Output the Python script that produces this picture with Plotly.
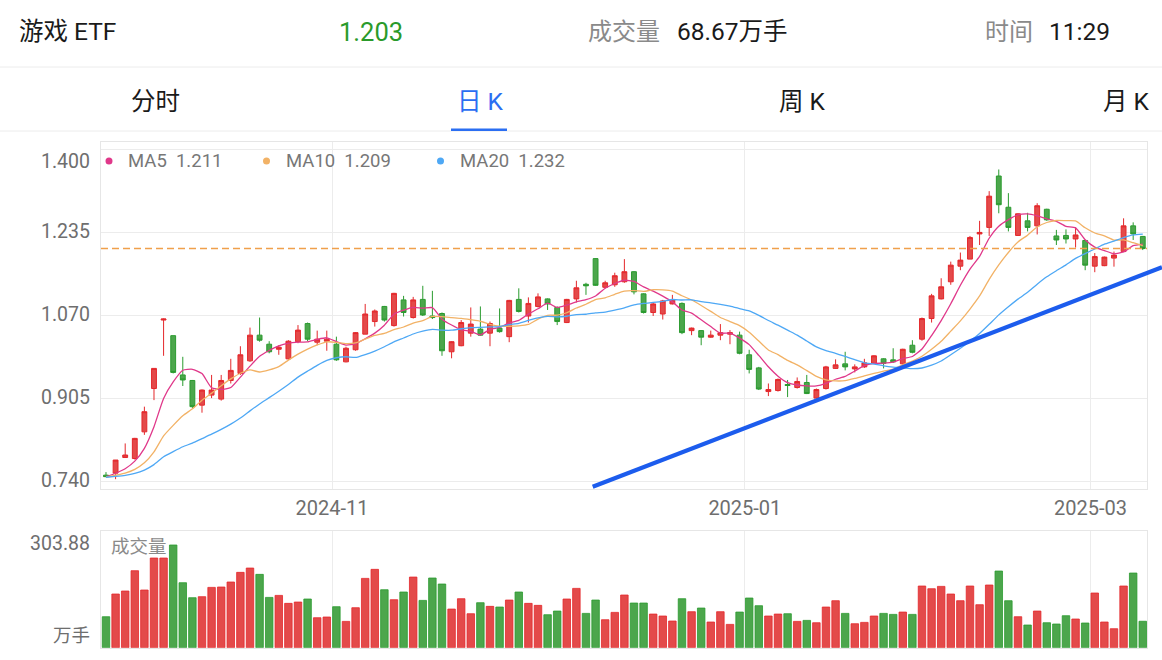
import plotly.graph_objects as go
import pandas as pd

# ---------------- data ----------------
holidays = ["2024-10-01", "2024-10-02", "2024-10-03", "2024-10-04", "2024-10-07",
            "2025-01-01", "2025-01-28", "2025-01-29", "2025-01-30", "2025-01-31",
            "2025-02-03", "2025-02-04"]
all_days = pd.bdate_range("2024-09-23", "2025-03-10")
dates = [d for d in all_days if d.strftime("%Y-%m-%d") not in holidays]

open_ = [
    0.753, 0.757, 0.788, 0.786, 0.839, 0.925, 1.061, 1.030, 0.952, 0.941,
    0.892, 0.912, 0.904, 0.941, 0.955, 0.980, 1.031, 1.013, 1.003, 0.984,
    1.018, 1.054, 1.017, 1.019, 1.013, 0.978, 1.002, 1.033, 1.058, 1.088,
    1.050, 1.101, 1.066, 1.102, 1.069, 1.074, 0.998, 1.010, 1.035, 1.043,
    1.035, 1.045, 1.028, 1.102, 1.069, 1.088, 1.103, 1.086, 1.056, 1.103,
    1.132, 1.183, 1.126, 1.131, 1.137, 1.157, 1.113, 1.076, 1.073, 1.093,
    1.094, 1.040, 1.040, 1.027, 1.031, 1.033, 1.031, 0.992, 0.966, 0.919,
    0.921, 0.933, 0.927, 0.937, 0.906, 0.925, 0.965, 0.974, 0.964, 0.968,
    0.975, 0.984, 0.982, 0.974, 1.011, 1.023, 1.064, 1.103, 1.137, 1.168,
    1.182, 1.232, 1.245, 1.347, 1.285, 1.229, 1.258, 1.248, 1.281, 1.228,
    1.229, 1.222, 1.219, 1.168, 1.169, 1.184, 1.197, 1.248, 1.227]
close = [
    0.750, 0.783, 0.793, 0.826, 0.879, 0.965, 1.063, 0.957, 0.942, 0.889,
    0.922, 0.922, 0.941, 0.961, 0.992, 1.031, 1.021, 0.998, 1.007, 1.019,
    1.041, 1.023, 1.023, 1.023, 0.982, 1.005, 1.036, 1.073, 1.079, 1.061,
    1.114, 1.076, 1.101, 1.071, 1.066, 1.000, 1.018, 1.056, 1.053, 1.031,
    1.054, 1.038, 1.100, 1.078, 1.094, 1.107, 1.093, 1.058, 1.102, 1.125,
    1.129, 1.130, 1.135, 1.149, 1.157, 1.117, 1.076, 1.093, 1.099, 1.101,
    1.036, 1.045, 1.027, 1.031, 1.036, 1.036, 0.995, 0.963, 0.924, 0.923,
    0.943, 0.931, 0.939, 0.915, 0.923, 0.968, 0.972, 0.968, 0.968, 0.976,
    0.990, 0.975, 0.978, 1.003, 0.997, 1.064, 1.109, 1.127, 1.170, 1.180,
    1.225, 1.235, 1.307, 1.290, 1.245, 1.272, 1.245, 1.288, 1.260, 1.220,
    1.222, 1.230, 1.170, 1.187, 1.186, 1.190, 1.248, 1.232, 1.203]
high = [
    0.759, 0.783, 0.816, 0.827, 0.889, 0.965, 1.064, 1.030, 0.988, 0.942,
    0.923, 0.952, 0.952, 0.984, 1.009, 1.046, 1.066, 1.019, 1.011, 1.021,
    1.051, 1.056, 1.040, 1.040, 1.028, 1.008, 1.037, 1.093, 1.082, 1.089,
    1.115, 1.109, 1.107, 1.129, 1.119, 1.076, 1.019, 1.061, 1.086, 1.088,
    1.058, 1.084, 1.101, 1.124, 1.106, 1.114, 1.104, 1.088, 1.103, 1.139,
    1.135, 1.184, 1.139, 1.155, 1.182, 1.158, 1.114, 1.096, 1.101, 1.111,
    1.096, 1.046, 1.041, 1.040, 1.053, 1.041, 1.038, 1.002, 0.968, 0.935,
    0.945, 0.942, 0.947, 0.952, 0.925, 0.970, 0.983, 0.998, 0.973, 0.984,
    0.991, 0.985, 1.005, 1.004, 1.021, 1.066, 1.113, 1.144, 1.177, 1.195,
    1.228, 1.258, 1.317, 1.360, 1.313, 1.273, 1.274, 1.293, 1.282, 1.240,
    1.241, 1.245, 1.220, 1.194, 1.187, 1.197, 1.263, 1.255, 1.228]
low = [
    0.749, 0.745, 0.788, 0.784, 0.833, 0.902, 0.990, 0.955, 0.930, 0.886,
    0.877, 0.906, 0.901, 0.935, 0.952, 0.978, 1.018, 0.995, 0.992, 0.982,
    1.015, 1.019, 1.011, 1.000, 0.980, 0.977, 1.000, 1.033, 1.048, 1.058,
    1.048, 1.068, 1.064, 1.069, 1.063, 0.990, 0.985, 1.009, 1.028, 1.030,
    1.009, 1.036, 1.017, 1.076, 1.056, 1.086, 1.081, 1.051, 1.055, 1.096,
    1.111, 1.129, 1.124, 1.127, 1.135, 1.112, 1.074, 1.069, 1.062, 1.092,
    1.033, 1.031, 1.011, 1.026, 1.021, 1.013, 0.993, 0.955, 0.922, 0.910,
    0.919, 0.908, 0.925, 0.914, 0.904, 0.923, 0.964, 0.961, 0.957, 0.966,
    0.974, 0.965, 0.976, 0.972, 0.995, 1.020, 1.056, 1.102, 1.131, 1.160,
    1.182, 1.210, 1.228, 1.273, 1.237, 1.228, 1.237, 1.231, 1.258, 1.210,
    1.213, 1.205, 1.160, 1.156, 1.168, 1.167, 1.196, 1.220, 1.200]
volume = [
    80.5, 139.4, 147.2, 200.0, 149.8, 232.9, 232.9, 266.7, 168.8, 129.9,
    132.5, 156.7, 157.6, 170.6, 195.7, 206.9, 190.5, 130.7, 135.9, 115.2,
    118.6, 126.4, 77.9, 79.7, 106.5, 68.4, 103.9, 180.1, 203.5, 150.6,
    124.7, 144.6, 183.5, 122.9, 181.0, 165.4, 100.4, 127.3, 88.3, 116.9,
    107.4, 105.6, 123.8, 144.6, 115.2, 110.0, 85.7, 95.2, 126.4, 154.1,
    89.2, 123.8, 72.7, 91.8, 136.8, 116.0, 116.0, 87.4, 82.3, 69.3,
    127.3, 93.5, 103.0, 66.7, 93.5, 60.6, 92.6, 129.0, 109.1, 82.3,
    87.4, 88.3, 68.4, 71.0, 64.9, 105.6, 122.1, 89.2, 62.3, 65.8,
    82.3, 89.2, 86.6, 92.6, 86.6, 160.2, 153.2, 159.3, 139.4, 122.1,
    160.2, 111.7, 162.8, 199.1, 122.1, 80.5, 58.9, 95.2, 64.9, 61.5,
    83.1, 74.5, 64.1, 142.0, 66.7, 49.4, 160.2, 193.9, 68.67]
# closes of the sessions before the first candle (seed for the moving averages)
prior_close = [0.752, 0.750, 0.748, 0.746, 0.749, 0.753, 0.751, 0.748, 0.745, 0.744,
               0.746, 0.749, 0.752, 0.750, 0.747, 0.746, 0.748, 0.751, 0.752]

price_ticks = [1.400, 1.235, 1.070, 0.905, 0.740]
ma_names = ["MA5", "MA10", "MA20"]
ma_periods = [5, 10, 20]
ma_labels = ["1.211", "1.209", "1.232"]
last_price = "1.203"
last_volume = "68.67万手"
quote_time = "11:29"
volume_max_label = "303.88"
tabs = ["分时", "日 K", "周 K", "月 K"]
trend_start = (50.7, 0.730)   # (session index, price)
trend_end = (110.0, 1.166)

# ---------------- styles ----------------
W, H = 1162, 660
L_M, R_M = 101, 15
FONT = "Roboto, 'Noto Sans CJK SC', sans-serif"
RED_LINE, RED_FILL = "#e4272b", "#e34a4a"
GRN_LINE, GRN_FILL = "#2a9b2f", "#4ca64c"
MA_COLORS = ["#e0388a", "#f2b266", "#4ea8f5"]
GRID = "#ececec"
FRAME = "#e6e6e6"
AXIS_TXT = "#6e6e6e"

n = len(close)
x = list(range(n))
XR = [-0.52, 108.44]
YR = [0.7255, 1.4145]
Y_DOM = [0.2591, 0.7848]
V_DOM = [0.0186, 0.1959]
VR = [0, float(volume_max_label)]

allc = pd.Series(prior_close + close)
mas = [allc.rolling(p, min_periods=1).mean().iloc[len(prior_close):].tolist() for p in ma_periods]

# ticks: first session of odd months
tickvals, ticktext = [], []
prev = None
for i, d in enumerate(dates):
    if prev is not None and d.month != prev.month and d.month % 2 == 1:
        tickvals.append(i - 0.45)
        ticktext.append(d.strftime("%Y-%m"))
    prev = d

up = [c >= o for o, c in zip(open_, close)]

fig = go.Figure()
fig.add_trace(go.Candlestick(
    x=x, open=open_, high=high, low=low, close=close,
    increasing=dict(line=dict(color=RED_LINE, width=1), fillcolor=RED_FILL),
    decreasing=dict(line=dict(color=GRN_LINE, width=1), fillcolor=GRN_FILL),
    whiskerwidth=0, showlegend=False, hoverinfo="skip", xaxis="x", yaxis="y"))
for name, ma, col in zip(ma_names, mas, MA_COLORS):
    fig.add_trace(go.Scatter(x=x, y=ma, mode="lines", name=name,
                             line=dict(color=col, width=1.3, shape="spline", smoothing=0.5),
                             showlegend=False, hoverinfo="skip", xaxis="x", yaxis="y"))
fig.add_trace(go.Bar(
    x=x, y=volume,
    marker=dict(color=[RED_FILL if u else GRN_FILL for u in up],
                line=dict(color=[RED_LINE if u else GRN_LINE for u in up], width=0.8)),
    showlegend=False, hoverinfo="skip", xaxis="x2", yaxis="y2"))


def px(v):
    return (v - L_M) / (W - L_M - R_M)


def py(v):
    return (H - v) / H


def data_to_paper(idx, price):
    xp = (idx - XR[0]) / (XR[1] - XR[0])
    yp = Y_DOM[0] + (price - YR[0]) / (YR[1] - YR[0]) * (Y_DOM[1] - Y_DOM[0])
    return xp, yp


shapes = []
annotations = []

# header separators
for yy in (67, 131):
    shapes.append(dict(type="line", xref="paper", yref="paper", x0=px(0), x1=px(W),
                       y0=py(yy), y1=py(yy), line=dict(color="#ececec", width=1)))
# active tab underline
shapes.append(dict(type="rect", xref="paper", yref="paper", x0=px(451), x1=px(507),
                   y0=py(131), y1=py(128.5), fillcolor="#2b6ef2", line=dict(width=0)))


def txt(s, xx, yy, size, color, anchor="left"):
    annotations.append(dict(text=s, xref="paper", yref="paper", x=px(xx), y=py(yy),
                            xanchor=anchor, yanchor="middle", showarrow=False,
                            font=dict(family=FONT, size=size, color=color)))


# header texts
txt("游戏 ETF", 17, 32, 24.5, "#1a1a1a")
txt(last_price, 370.5, 32, 25.5, "#2a9a2a", "center")
txt("成交量", 586, 32, 24, "#8a8a8a")
txt(last_volume, 675, 32, 24.5, "#1a1a1a")
txt("时间", 983, 32, 24, "#8a8a8a")
txt(quote_time, 1047, 32, 24.5, "#1a1a1a")
for t, cx in zip(tabs, [155, 480, 802, 1126]):
    txt(t, cx, 101, 24.5, "#2b6ef2" if t == "日 K" else "#1a1a1a", "center")

# legend
for name, lab, col, dx, tx in zip(ma_names, ma_labels, MA_COLORS, [109, 266.5, 440.5], [126, 284, 458]):
    shapes.append(dict(type="circle", xref="paper", yref="paper",
                       x0=px(dx - 3.5), x1=px(dx + 3.5), y0=py(161 + 3.5), y1=py(161 - 3.5),
                       fillcolor=col, line=dict(width=0)))
    txt(name + "  " + lab, tx, 161, 18.5, "#777777")

# y tick labels for price panel
for v in price_ticks:
    annotations.append(dict(text=f"{v:.3f}", xref="paper", yref="y", x=0, y=v,
                            xanchor="right", yanchor="middle", xshift=-9,
                            yshift=-12 if v == max(price_ticks) else 1, showarrow=False,
                            font=dict(family=FONT, size=19.5, color=AXIS_TXT)))

# volume panel labels
txt(volume_max_label, 92, 543, 19.5, AXIS_TXT, "right")
txt("万手", 92, 636, 18.5, AXIS_TXT, "right")
txt("成交量", 109, 547, 18.5, "#8a8a8a")

# last price dashed line
shapes.append(dict(type="line", xref="paper", yref="y", x0=0, x1=1,
                   y0=close[-1], y1=close[-1],
                   line=dict(color="#f0a04b", width=1.6, dash="7px,4px")))

# trend line (drawn by hand on the original chart)
tx0, ty0 = data_to_paper(*trend_start)
tx1, ty1 = data_to_paper(*trend_end)
shapes.append(dict(type="line", xref="paper", yref="paper", x0=tx0, y0=ty0, x1=tx1, y1=ty1,
                   line=dict(color="#1c5ced", width=4.2)))

axis_common = dict(range=XR, showgrid=True, gridcolor=GRID, gridwidth=1, zeroline=False,
                   showline=True, mirror=True, linecolor=FRAME, linewidth=1,
                   tickvals=tickvals, ticktext=ticktext, ticks="", fixedrange=True)

fig.update_layout(
    width=W, height=H,
    margin=dict(l=L_M, r=R_M, t=0, b=0),
    paper_bgcolor="white", plot_bgcolor="white",
    font=dict(family=FONT),
    showlegend=False,
    bargap=0.22,
    boxgap=0.28,
    xaxis=dict(domain=[0, 1], anchor="y", rangeslider=dict(visible=False),
               tickfont=dict(family=FONT, size=20, color=AXIS_TXT),
               ticklabelstandoff=1, **axis_common),
    yaxis=dict(domain=Y_DOM, range=YR, tickvals=price_ticks, showticklabels=False,
               showgrid=True, gridcolor=GRID, zeroline=False, showline=True, mirror=True,
               linecolor=FRAME, ticks="", fixedrange=True),
    xaxis2=dict(domain=[0, 1], anchor="y2", showticklabels=False, **axis_common),
    yaxis2=dict(domain=V_DOM, range=VR, showgrid=False, showticklabels=False, zeroline=False,
                showline=True, mirror=True, linecolor=FRAME, ticks="", fixedrange=True),
    shapes=shapes,
    annotations=annotations,
)

fig.write_html("out.html", config={"displayModeBar": False})
